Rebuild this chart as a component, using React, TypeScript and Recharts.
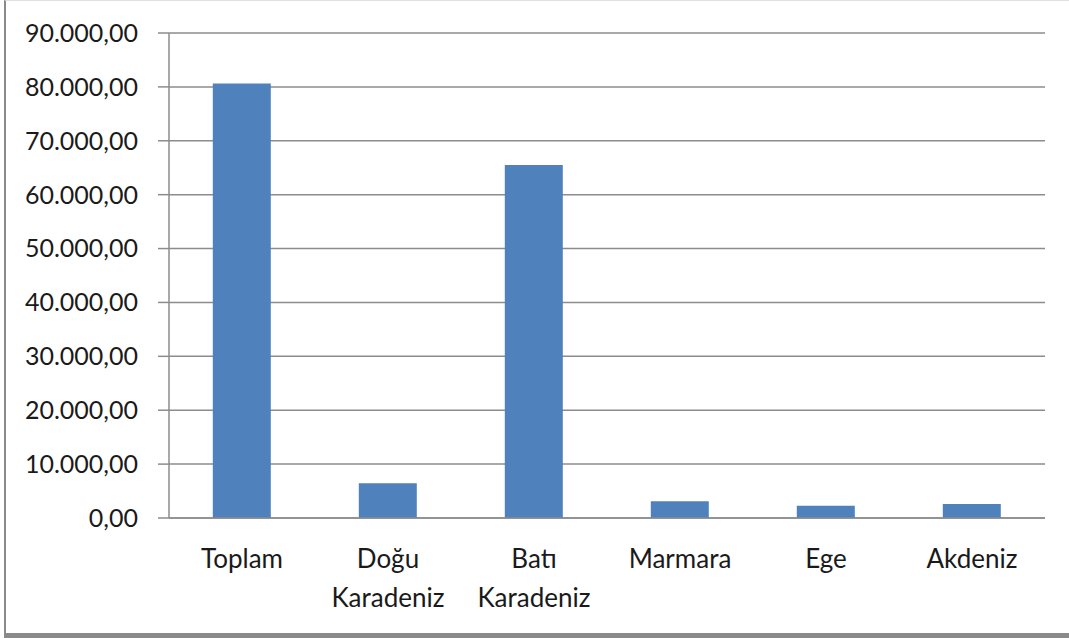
import { BarChart, Bar, XAxis, YAxis, CartesianGrid } from 'recharts'

const regions = ['Toplam', 'Doğu Karadeniz', 'Batı Karadeniz', 'Marmara', 'Ege', 'Akdeniz']
const amounts = [80650, 6450, 65500, 3100, 2280, 2600]
const yTicks = [0, 10000, 20000, 30000, 40000, 50000, 60000, 70000, 80000, 90000]
const edgeTicks = [0, 1, 2, 3, 4, 5, 6]

const data = regions.map((name, i) => ({ name, value: amounts[i] }))

const FONT = 'Lato, "Open Sans", sans-serif'
const GRID = '#8c8c8c'

// Turkish number format: 90.000,00
function trNumber(v: number): string {
  return v.toLocaleString('tr-TR', { minimumFractionDigits: 2, maximumFractionDigits: 2 })
}

function CategoryTick({ x, y, payload }: any): React.ReactElement {
  const lines = String(payload.value).split(' ')
  return (
    <text x={x} y={y} textAnchor="middle" fill="#1a1a1a" fontSize={26} fontFamily={FONT}>
      {lines.map((line, i) => (
        <tspan key={i} x={x} dy={i === 0 ? 42 : 39}>
          {line}
        </tspan>
      ))}
    </text>
  )
}

export default function App(): React.ReactElement {
  return (
    <div
      style={{
        position: 'absolute',
        left: 0,
        top: 0,
        width: 1069,
        height: 638,
        background: '#fff',
        overflow: 'hidden',
      }}
    >
      {/* frame */}
      <div
        style={{
          position: 'absolute',
          left: 4,
          top: 0,
          width: 1065,
          height: 638,
          borderLeft: '2px solid #8a8a8a',
          borderBottom: '5px solid #8a8a8a',
          borderTop: '1px solid #e0e0e0',
          boxSizing: 'border-box',
        }}
      />
      <BarChart
        width={1069}
        height={638}
        data={data}
        margin={{ top: 33, right: 24, left: 0, bottom: 0 }}
        barCategoryGap="30%"
        style={{ position: 'absolute', left: 0, top: 0 }}
      >
        <CartesianGrid vertical={false} stroke={GRID} strokeWidth={1.5} />
        <XAxis
          xAxisId="edge"
          type="number"
          domain={[0, 6]}
          ticks={edgeTicks}
          allowDataOverflow
          tick={false}
          axisLine={false}
          tickSize={10}
          tickLine={{ stroke: GRID, strokeWidth: 1.5 }}
          height={0}
        />
        <XAxis
          xAxisId="cat"
          dataKey="name"
          axisLine={{ stroke: GRID, strokeWidth: 1.5 }}
          tickLine={false}
          tick={<CategoryTick />}
          interval={0}
          height={120}
        />
        <YAxis
          domain={[0, 90000]}
          ticks={yTicks}
          width={169}
          tickFormatter={trNumber}
          axisLine={{ stroke: GRID, strokeWidth: 1.5 }}
          tickLine={{ stroke: GRID, strokeWidth: 1.5 }}
          tickSize={11}
          tickMargin={20}
          tick={{ fill: '#1a1a1a', fontSize: 25, fontFamily: FONT }}
        />
        <Bar dataKey="value" xAxisId="cat" fill="#4f81bd" isAnimationActive={false} />
      </BarChart>
    </div>
  )
}
